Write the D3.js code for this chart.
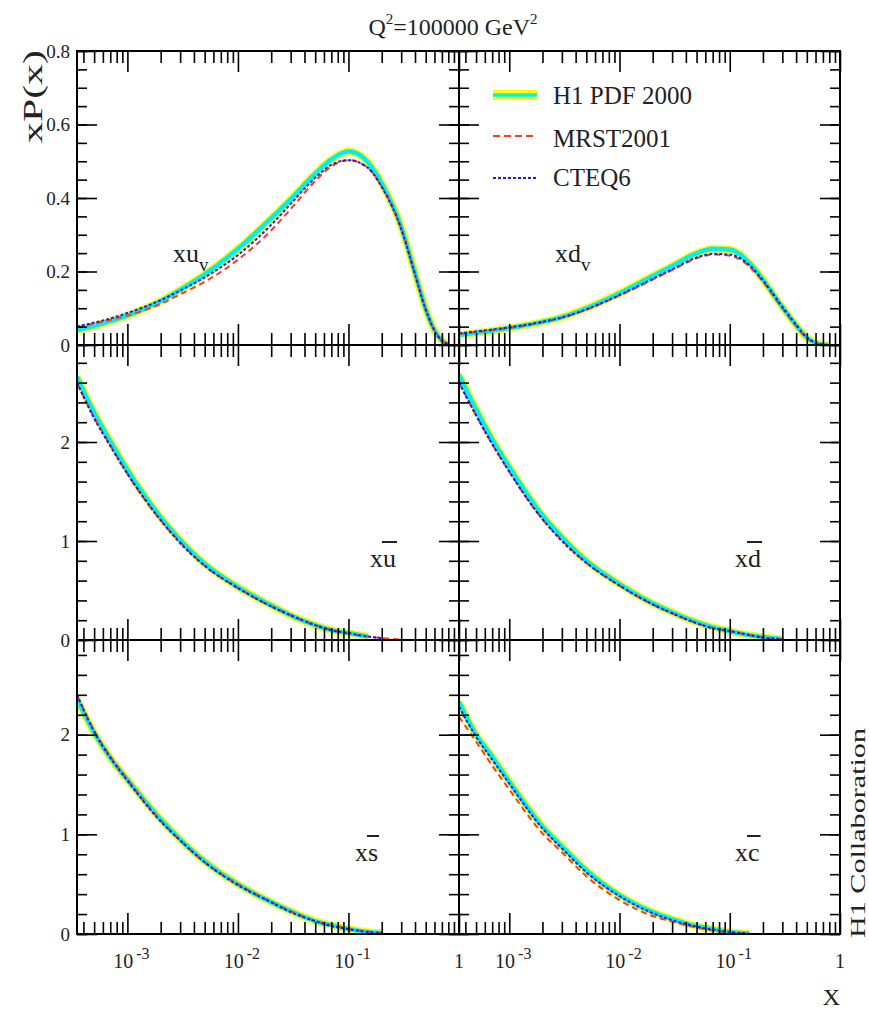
<!DOCTYPE html>
<html><head><meta charset="utf-8">
<script src="https://cdn.jsdelivr.net/npm/d3@7"></script>
<style>
body{margin:0;background:#fff}
svg{display:block;font-family:"Liberation Serif","Times New Roman",serif}
</style>
</head><body>
<svg id="c" width="869" height="1010"></svg>
<script>
// ---------------- data ----------------
const xGrid = [3.5e-4,5e-4,7e-4,1e-3,2e-3,3e-3,5e-3,1e-2,2e-2,3e-2,5e-2,7e-2,0.1,0.15,0.2,0.3,0.4,0.5,0.6,0.7,0.8];

const h1_uv   = [0.040,0.052,0.065,0.080,0.120,0.150,0.192,0.262,0.345,0.397,0.466,0.505,0.527,0.497,0.440,0.322,0.196,0.098,0.040,0.012,0.002];
const mrst_uv = [0.048,0.058,0.068,0.080,0.112,0.138,0.172,0.232,0.312,0.370,0.446,0.486,0.503,0.482,0.432,0.318,0.194,0.097,0.040,0.012,0.002];
const cteq_uv = [0.050,0.061,0.072,0.087,0.122,0.148,0.184,0.245,0.327,0.384,0.455,0.490,0.503,0.482,0.430,0.316,0.192,0.096,0.039,0.012,0.002];

const h1_dv   = [0.027,0.033,0.039,0.046,0.063,0.076,0.100,0.141,0.188,0.215,0.250,0.262,0.260,0.224,0.178,0.103,0.054,0.020,0.006,0.001,0.000];
const mrst_dv = [0.030,0.035,0.040,0.046,0.062,0.074,0.096,0.135,0.178,0.204,0.236,0.246,0.243,0.214,0.172,0.100,0.052,0.019,0.006,0.001,0.000];
const cteq_dv = [0.032,0.037,0.042,0.048,0.063,0.075,0.097,0.136,0.180,0.206,0.238,0.248,0.246,0.218,0.176,0.104,0.055,0.021,0.006,0.001,0.000];

const h1_ub   = [2.66,2.30,2.01,1.72,1.24,1.01,0.77,0.535,0.35,0.25,0.15,0.10,0.07,0.035,null,null];
const mrst_ub = [2.60,2.25,1.97,1.68,1.21,0.99,0.75,0.525,0.34,0.25,0.15,0.10,0.065,0.035,0.02,0.004];
const cteq_ub = [2.60,2.24,1.96,1.68,1.21,0.98,0.75,0.525,0.34,0.25,0.15,0.10,0.07,0.035,0.02,null];

const h1_db   = [2.68,2.33,2.03,1.75,1.26,1.04,0.80,0.565,0.37,0.28,0.18,0.13,0.09,0.05,0.03,0.008];
const mrst_db = [2.60,2.27,1.98,1.70,1.22,1.01,0.78,0.55,0.36,0.27,0.17,0.12,0.09,0.05,0.025,0.008];
const cteq_db = [2.60,2.27,1.98,1.70,1.22,1.00,0.78,0.55,0.36,0.27,0.17,0.12,0.09,0.05,0.025,0.008];

const h1_sb   = [2.36,2.02,1.77,1.55,1.15,0.95,0.73,0.50,0.32,0.23,0.13,0.09,0.05,0.02,0.01,null];
const mrst_sb = [2.40,2.04,1.78,1.55,1.14,0.94,0.72,0.50,0.32,0.23,0.13,0.09,0.05,0.025,0.01,null];
const cteq_sb = [2.40,2.03,1.77,1.54,1.13,0.94,0.72,0.49,0.32,0.22,0.13,0.08,0.05,0.02,0.01,null];

const h1_cb   = [2.33,2.00,1.78,1.53,1.08,0.88,0.64,0.39,0.22,0.15,0.08,0.05,0.02,0.005,null,null];
const mrst_cb = [2.18,1.93,1.69,1.45,1.01,0.82,0.58,0.34,0.18,0.125,0.065,0.035,0.013,0.003,null,null];
const cteq_cb = [2.28,1.98,1.75,1.51,1.06,0.86,0.62,0.38,0.21,0.14,0.075,0.045,0.02,0.005,null,null];

const xDomain = [3.5e-4, 1];
const xMajorTicks = [1e-3, 1e-2, 1e-1, 1];
const xMajorBase = ["10","10","10","1"];
const xMajorExp  = ["-3","-2","-1",""];
const yTicksValence = [0, 0.2, 0.4, 0.6, 0.8];
const yLabelsValence = ["0","0.2","0.4","0.6","0.8"];
const yTicksSea = [0, 1, 2];
const yLabelsSea = ["0","1","2"];
const yMaxRows = [0.8, 2.98, 2.95];
const yMinorStep = [0.05, 0.2, 0.2];

const seriesNames = ["H1 PDF 2000","MRST2001","CTEQ6"];

// ---------------- layout ----------------
const svg = d3.select("#c");
const colX = [[77,459],[459,840]];
const rowY = [[51,345],[345,640],[640,934]];
const C = {yellow:"#ffff00", cyan:"#00f0f0", red:"#ff3a1a", blue:"#1a1aff"};

const panels = [
  {c:0,r:0,h1:h1_uv,mrst:mrst_uv,cteq:cteq_uv},
  {c:1,r:0,h1:h1_dv,mrst:mrst_dv,cteq:cteq_dv},
  {c:0,r:1,h1:h1_ub,mrst:mrst_ub,cteq:cteq_ub},
  {c:1,r:1,h1:h1_db,mrst:mrst_db,cteq:cteq_db},
  {c:0,r:2,h1:h1_sb,mrst:mrst_sb,cteq:cteq_sb},
  {c:1,r:2,h1:h1_cb,mrst:mrst_cb,cteq:cteq_cb}
];

const defs = svg.append("defs");

panels.forEach((p,pi)=>{
  const [x0,x1] = colX[p.c], [y0,y1] = rowY[p.r];
  const x = d3.scaleLog().domain(xDomain).range([x0,x1]);
  const y = d3.scaleLinear().domain([0,yMaxRows[p.r]]).range([y1,y0]);
  const g = svg.append("g");

  defs.append("clipPath").attr("id","clip"+pi)
    .append("rect").attr("x",x0).attr("y",y0-6).attr("width",x1-x0).attr("height",y1-y0+6);

  const line = d3.line()
    .defined(d=>d[1]!=null)
    .x(d=>x(d[0])).y(d=>y(d[1]))
    .curve(d3.curveMonotoneX);
  const pts = arr => arr.map((v,i)=>[xGrid[i],v]);

  const cg = g.append("g").attr("clip-path",`url(#clip${pi})`);
  cg.append("path").attr("d",line(pts(p.h1))).attr("fill","none")
    .attr("stroke",C.yellow).attr("stroke-width",7.5).attr("stroke-linejoin","round");
  cg.append("path").attr("d",line(pts(p.h1))).attr("fill","none")
    .attr("stroke",C.cyan).attr("stroke-width",4.5).attr("stroke-linejoin","round");
  cg.append("path").attr("d",line(pts(p.mrst))).attr("fill","none")
    .attr("stroke",C.red).attr("stroke-width",2).attr("stroke-dasharray","6,4");
  cg.append("path").attr("d",line(pts(p.cteq))).attr("fill","none")
    .attr("stroke",C.blue).attr("stroke-width",2).attr("stroke-dasharray","3,2");

  // ticks via axes
  const allX = x.ticks();
  const minorX = allX.filter(v=>!xMajorTicks.some(m=>Math.abs(m-v)/m<1e-6));
  const majorX = xMajorTicks.filter(v=>v>=xDomain[0]&&v<=xDomain[1]);
  const yMajor = p.r===0 ? yTicksValence : yTicksSea;
  const yMinor = d3.range(0, yMaxRows[p.r]+1e-9, yMinorStep[p.r]);

  const ax = (gen, pos, vals, len) => {
    const a = g.append("g").attr("transform",pos)
      .call(gen.tickValues(vals).tickSize(-len).tickFormat(""));
    a.select(".domain").remove();
    a.selectAll("line").attr("stroke","#000").attr("stroke-width",1.6);
  };
  ax(d3.axisBottom(x), `translate(0,${y1})`, minorX, 12);
  ax(d3.axisBottom(x), `translate(0,${y1})`, majorX, 21);
  ax(d3.axisTop(x), `translate(0,${y0})`, minorX, 12);
  ax(d3.axisTop(x), `translate(0,${y0})`, majorX, 21);
  ax(d3.axisLeft(y), `translate(${x0},0)`, yMinor, 10);
  ax(d3.axisLeft(y), `translate(${x0},0)`, yMajor, 20);
  ax(d3.axisRight(y), `translate(${x1},0)`, yMinor, 10);
  ax(d3.axisRight(y), `translate(${x1},0)`, yMajor, 20);

  g.append("rect").attr("x",x0).attr("y",y0).attr("width",x1-x0).attr("height",y1-y0)
    .attr("fill","none").attr("stroke","#000").attr("stroke-width",2);

  // y labels (left column)
  if(p.c===0){
    const labs = p.r===0 ? yLabelsValence : yLabelsSea;
    yMajor.forEach((v,i)=>{
      g.append("text").attr("x",x0-7).attr("y",y(v)).attr("dy","0.35em")
        .attr("text-anchor","end").attr("font-size",19).attr("fill","#222").text(labs[i]);
    });
  }
  // x labels (bottom row)
  if(p.r===2){
    xMajorTicks.forEach((v,i)=>{
      const t = g.append("text").attr("x",x(v)+(xMajorExp[i]?4:0)).attr("y",968)
        .attr("text-anchor","middle").attr("font-size",20).attr("fill","#222");
      t.append("tspan").text(xMajorBase[i]);
      if(xMajorExp[i]) t.append("tspan").attr("dx",3).attr("dy",-9).attr("font-size",16).text(xMajorExp[i]);
    });
  }
});

// panel labels
function subLabel(x,y,base,sub){
  const t = svg.append("text").attr("x",x).attr("y",y).attr("font-size",26).attr("fill","#222");
  t.append("tspan").text(base);
  t.append("tspan").attr("dy",9).attr("font-size",19).text(sub);
}
subLabel(173,262,"xu","v");
subLabel(555,262,"xd","v");

function barLabel(x,y,a,b){
  const t = svg.append("text").attr("x",x).attr("y",y).attr("font-size",26).attr("fill","#222").text(a+b);
  const n = t.node();
  const w1 = n.getSubStringLength(0,1), wAll = n.getComputedTextLength();
  svg.append("line").attr("x1",x+w1-1).attr("x2",x+wAll+1).attr("y1",y-25).attr("y2",y-25)
    .attr("stroke","#222").attr("stroke-width",2);
}
barLabel(370,567,"x","u");
barLabel(735,567,"x","d");
barLabel(355,861,"x","s");
barLabel(735,861,"x","c");

// title
const tt = svg.append("text").attr("x",453).attr("y",35).attr("text-anchor","middle")
  .attr("font-size",24).attr("fill","#222");
tt.append("tspan").text("Q");
tt.append("tspan").attr("dy",-11).attr("font-size",15).text("2");
tt.append("tspan").attr("dy",11).text("=100000 GeV");
tt.append("tspan").attr("dy",-11).attr("font-size",15).text("2");

// axis titles
svg.append("text").attr("transform","translate(42,50) rotate(-90)").attr("text-anchor","end")
  .attr("font-size",28).attr("fill","#222").attr("textLength",93).attr("lengthAdjust","spacingAndGlyphs")
  .text("xP(x)");
svg.append("text").attr("x",840).attr("y",1005).attr("text-anchor","end")
  .attr("font-size",24).attr("fill","#222").text("X");
svg.append("text").attr("transform","translate(865,938) rotate(-90)").attr("text-anchor","start")
  .attr("font-size",22).attr("fill","#222").attr("textLength",210).attr("lengthAdjust","spacingAndGlyphs")
  .text("H1 Collaboration");

// legend
const lg = svg.append("g");
lg.append("line").attr("x1",493).attr("x2",537).attr("y1",95).attr("y2",95).attr("stroke",C.yellow).attr("stroke-width",10);
lg.append("line").attr("x1",493).attr("x2",537).attr("y1",95).attr("y2",95).attr("stroke",C.cyan).attr("stroke-width",3.5);
lg.append("line").attr("x1",493).attr("x2",537).attr("y1",136).attr("y2",136).attr("stroke",C.red).attr("stroke-width",2).attr("stroke-dasharray","7,4");
lg.append("line").attr("x1",493).attr("x2",537).attr("y1",178).attr("y2",178).attr("stroke",C.blue).attr("stroke-width",2).attr("stroke-dasharray","3,2");
[104,147,186].forEach((yy,i)=>{
  lg.append("text").attr("x",553).attr("y",yy).attr("font-size",25).attr("fill","#222").text(seriesNames[i]);
});
</script>
</body></html>
